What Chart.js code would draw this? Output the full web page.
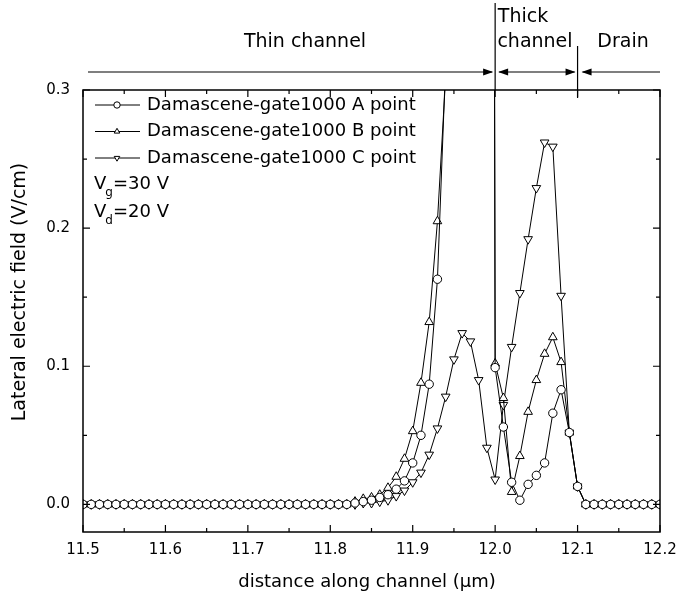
<!DOCTYPE html>
<html>
<head>
<meta charset="utf-8">
<script src="https://cdn.jsdelivr.net/npm/chart.js@4.4.1/dist/chart.umd.min.js"></script>
<style>
  body { margin: 0; background: #fff; }
  #wrap { width: 679px; height: 599px; }
</style>
</head>
<body>
<div id="wrap"><canvas id="fieldChart"></canvas></div>
<script>
// distance along channel (um), one sample every 0.01
const distance = [
  11.50, 11.51, 11.52, 11.53, 11.54, 11.55, 11.56, 11.57, 11.58, 11.59,
  11.60, 11.61, 11.62, 11.63, 11.64, 11.65, 11.66, 11.67, 11.68, 11.69,
  11.70, 11.71, 11.72, 11.73, 11.74, 11.75, 11.76, 11.77, 11.78, 11.79,
  11.80, 11.81, 11.82, 11.83, 11.84, 11.85, 11.86, 11.87, 11.88, 11.89,
  11.90, 11.91, 11.92, 11.93, 11.94, 11.95, 11.96, 11.97, 11.98, 11.99,
  12.00, 12.01, 12.02, 12.03, 12.04, 12.05, 12.06, 12.07, 12.08, 12.09,
  12.10, 12.11, 12.12, 12.13, 12.14, 12.15, 12.16, 12.17, 12.18, 12.19,
  12.20
];

// lateral field, A point (values above 0.3 run off the top of the plot)
const pointA = [
  0, 0, 0, 0, 0, 0, 0, 0, 0, 0,
  0, 0, 0, 0, 0, 0, 0, 0, 0, 0,
  0, 0, 0, 0, 0, 0, 0, 0, 0, 0,
  0, 0, 0, 0.001, 0.002, 0.003, 0.005, 0.007, 0.011, 0.017,
  0.030, 0.050, 0.087, 0.163, 0.32, 0.48, 0.65, 0.9, 1.3, 3.2,
  0.099, 0.056, 0.016, 0.003, 0.0145, 0.021, 0.030, 0.066, 0.083, 0.052,
  0.013, 0, 0, 0, 0, 0, 0, 0, 0, 0,
  0
];

// lateral field, B point
const pointB = [
  0, 0, 0, 0, 0, 0, 0, 0, 0, 0,
  0, 0, 0, 0, 0, 0, 0, 0, 0, 0,
  0, 0, 0, 0, 0, 0, 0, 0, 0, 0,
  0, 0, 0, 0.002, 0.004, 0.005, 0.007, 0.012, 0.020, 0.033,
  0.053, 0.088, 0.132, 0.205, 0.31, 0.45, 0.62, 0.85, 1.25, 3.0,
  0.102, 0.077, 0.009, 0.035, 0.067, 0.090, 0.109, 0.121, 0.103, 0.052,
  0.013, 0, 0, 0, 0, 0, 0, 0, 0, 0,
  0
];

// lateral field, C point
const pointC = [
  0, 0, 0, 0, 0, 0, 0, 0, 0, 0,
  0, 0, 0, 0, 0, 0, 0, 0, 0, 0,
  0, 0, 0, 0, 0, 0, 0, 0, 0, 0,
  0, 0, 0, 0, 0.001, 0.001, 0.002, 0.003, 0.006, 0.010,
  0.016, 0.023, 0.036, 0.055, 0.078, 0.105, 0.124, 0.118, 0.090, 0.041,
  0.018, 0.072, 0.114, 0.153, 0.192, 0.229, 0.262, 0.259, 0.151, 0.052,
  0.013, 0, 0, 0, 0, 0, 0, 0, 0, 0,
  0
];

const seriesNames = [
  'Damascene-gate1000 A point',
  'Damascene-gate1000 B point',
  'Damascene-gate1000 C point'
];
const xTicks = [11.5, 11.6, 11.7, 11.8, 11.9, 12.0, 12.1, 12.2];
const xMinor = [11.55, 11.65, 11.75, 11.85, 11.95, 12.05, 12.15];
const yTicks = [0.0, 0.1, 0.2, 0.3];
const yMinor = [0.05, 0.15, 0.25];

const FONT = 'DejaVu Sans';
Chart.defaults.font.family = FONT;
Chart.defaults.color = '#000';

function toPoints(values) {
    return distance.map((x, i) => ({ x: x, y: values[i] }));
}

function series(label, values, style, rotation, radius) {
    return {
        label: label,
        data: toPoints(values),
        borderColor: '#000',
        borderWidth: 1,
        backgroundColor: '#fff',
        pointStyle: style,
        pointRotation: rotation,
        pointRadius: radius,
        pointBorderWidth: 1,
        pointBorderColor: '#000',
        pointBackgroundColor: '#fff',
        tension: 0,
        clip: 0
    };
}

function arrowHead(ctx, x, y, dir) {
    ctx.beginPath();
    ctx.moveTo(x, y);
    ctx.lineTo(x - dir * 10, y - 3.5);
    ctx.lineTo(x - dir * 10, y + 3.5);
    ctx.closePath();
    ctx.fill();
}

// frame, inward ticks, legend, axis titles and the region notes on top
const decorations = {
    id: 'decorations',
    afterDraw(chart) {
        const ctx = chart.ctx;
        const { left, right, top, bottom } = chart.chartArea;
        const xs = chart.scales.x;
        const ys = chart.scales.y;
        ctx.save();
        ctx.strokeStyle = '#000';
        ctx.fillStyle = '#000';

        // frame
        ctx.lineWidth = 1.5;
        ctx.strokeRect(left, top, right - left, bottom - top);

        // ticks pointing inwards on all four sides
        ctx.lineWidth = 1.2;
        ctx.beginPath();
        const xTick = (v, len) => {
            const px = xs.getPixelForValue(v);
            ctx.moveTo(px, bottom); ctx.lineTo(px, bottom - len);
            ctx.moveTo(px, top); ctx.lineTo(px, top + len);
        };
        const yTick = (v, len) => {
            const py = ys.getPixelForValue(v);
            ctx.moveTo(left, py); ctx.lineTo(left + len, py);
            ctx.moveTo(right, py); ctx.lineTo(right - len, py);
        };
        xTicks.forEach(v => xTick(v, 7));
        xMinor.forEach(v => xTick(v, 4));
        yTicks.forEach(v => yTick(v, 7));
        yMinor.forEach(v => yTick(v, 4));
        ctx.stroke();

        // legend inside the plot
        ctx.font = '18px "' + FONT + '"';
        ctx.textBaseline = 'middle';
        ctx.textAlign = 'left';
        chart.data.datasets.forEach((ds, i) => {
            const y = 105 + i * 26.5;
            ctx.lineWidth = 1;
            ctx.beginPath();
            ctx.moveTo(95, y); ctx.lineTo(140, y);
            ctx.stroke();
            ctx.fillStyle = '#fff';
            Chart.helpers.drawPoint(ctx, {
                pointStyle: ds.pointStyle,
                rotation: ds.pointRotation,
                radius: 3.2,
                borderWidth: 1
            }, 117, y);
            ctx.fillStyle = '#000';
            ctx.fillText(ds.label, 147, y);
        });

        // bias conditions
        const bias = (sub, rest, y) => {
            ctx.font = '18px "' + FONT + '"';
            ctx.fillText('V', 94, y);
            const w = ctx.measureText('V').width;
            ctx.font = '12px "' + FONT + '"';
            ctx.fillText(sub, 94 + w - 1, y + 9);
            const ws = ctx.measureText(sub).width;
            ctx.font = '18px "' + FONT + '"';
            ctx.fillText(rest, 94 + w + ws - 1, y);
        };
        bias('g', '=30 V', 184);
        bias('d', '=20 V', 212);

        // axis titles
        ctx.font = '18px "' + FONT + '"';
        ctx.textAlign = 'center';
        ctx.fillText('distance along channel (\u03bcm)', 367, 582);
        ctx.save();
        ctx.translate(20, 292);
        ctx.rotate(-Math.PI / 2);
        ctx.font = '19px "' + FONT + '"';
        ctx.fillText('Lateral electric field (V/cm)', 0, 0);
        ctx.restore();

        // region notes above the plot
        const x12 = xs.getPixelForValue(12.0);
        const x121 = xs.getPixelForValue(12.1);
        const ay = 72;
        ctx.lineWidth = 1.2;
        ctx.beginPath();
        ctx.moveTo(left + 5, ay); ctx.lineTo(x12 - 3, ay);
        ctx.moveTo(x12 + 4, ay); ctx.lineTo(x121 - 3, ay);
        ctx.moveTo(right, ay); ctx.lineTo(x121 + 5, ay);
        ctx.moveTo(x12, 3); ctx.lineTo(x12, top);
        ctx.moveTo(x121, 46); ctx.lineTo(x121, top + 8);
        ctx.stroke();
        arrowHead(ctx, x12 - 2, ay, 1);
        arrowHead(ctx, x12 + 3, ay, -1);
        arrowHead(ctx, x121 - 2, ay, 1);
        arrowHead(ctx, x121 + 4, ay, -1);

        ctx.font = '19px "' + FONT + '"';
        ctx.fillText('Thin channel', 305, 42);
        ctx.fillText('Thick', 523, 17);
        ctx.fillText('channel', 535, 42);
        ctx.fillText('Drain', 623, 42);
        ctx.restore();
    }
};

new Chart(document.getElementById('fieldChart'), {
    type: 'line',
    data: {
        datasets: [
            series(seriesNames[0], pointA, 'circle', 0, 4.2),
            series(seriesNames[1], pointB, 'triangle', 0, 5),
            series(seriesNames[2], pointC, 'triangle', 180, 5)
        ]
    },
    options: {
        responsive: true,
        maintainAspectRatio: false,
        animation: false,
        layout: { padding: { left: 0, right: 19, top: 90, bottom: 0 } },
        plugins: {
            legend: { display: false },
            tooltip: { enabled: false }
        },
        scales: {
            x: {
                type: 'linear',
                min: 11.5,
                max: 12.2,
                grid: { display: false, drawTicks: false },
                border: { display: false },
                afterFit(scale) {
                    scale.height = 67;
                    scale.paddingLeft = 0;
                    scale.paddingRight = 0;
                },
                afterBuildTicks(scale) { scale.ticks = xTicks.map(v => ({ value: v })); },
                ticks: {
                    padding: 9,
                    maxRotation: 0,
                    font: { size: 15 },
                    callback: v => v.toFixed(1)
                }
            },
            y: {
                type: 'linear',
                min: -0.02,
                max: 0.3,
                grid: { display: false, drawTicks: false },
                border: { display: false },
                afterFit(scale) { scale.width = 83; },
                afterBuildTicks(scale) { scale.ticks = yTicks.map(v => ({ value: v })); },
                ticks: {
                    padding: 13,
                    font: { size: 15 },
                    callback: v => v.toFixed(1)
                }
            }
        }
    },
    plugins: [decorations]
});
</script>
</body>
</html>
